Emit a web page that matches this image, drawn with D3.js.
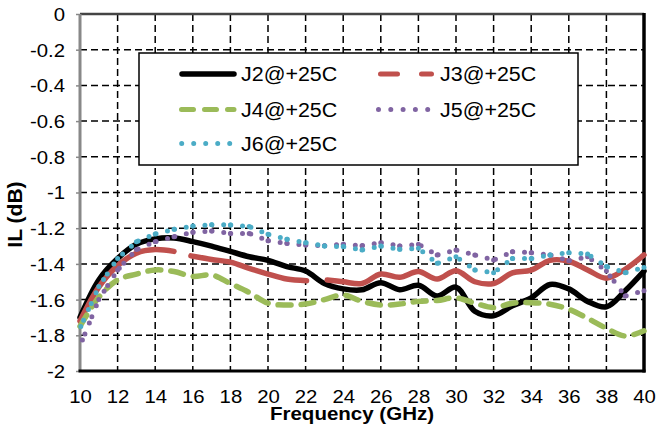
<!DOCTYPE html>
<html>
<head>
<meta charset="utf-8">
<script src="https://cdn.jsdelivr.net/npm/d3@7/dist/d3.min.js"></script>
<style>
    body { margin: 0; background: #fff; }
    svg { display: block; font-family: "Liberation Sans", Arial, sans-serif; }
</style>
</head>
<body>
<div id="chart"></div>
<script>
// Frequency points (GHz) shared by J2, J4, J5, J6
var freq = [10, 11, 12, 13, 14, 15, 16, 17, 18, 19, 20, 21, 22, 23, 24, 25,
    26, 27, 28, 29, 30, 31, 32, 33, 34, 35, 36, 37, 38, 39, 40];

// Insertion loss (dB)
var ilJ2 = [-1.70, -1.49, -1.37, -1.29, -1.26, -1.255, -1.275, -1.30, -1.33, -1.36, -1.38,
    -1.415, -1.44, -1.51, -1.54, -1.545, -1.505, -1.545, -1.52, -1.58, -1.53,
    -1.665, -1.69, -1.635, -1.59, -1.515, -1.54, -1.61, -1.64, -1.55, -1.44];

// J3 has its own points, with two holes in the trace
var freqJ3 = [10, 11, 12, 13, 14, 15, 15.5, 15.9, 17, 18, 19, 20, 21, 22.05, 22.6, 23.15,
    24, 25, 26, 27, 28, 29, 30, 31, 32, 33, 34, 35, 36, 37, 38, 39, 40];
var ilJ3 = [-1.72, -1.53, -1.41, -1.34, -1.32, -1.33, null, -1.355, -1.375, -1.39, -1.425,
    -1.457, -1.485, -1.494, null, -1.49,
    -1.50, -1.51, -1.457, -1.475, -1.443, -1.485, -1.438, -1.50, -1.51, -1.45, -1.435,
    -1.38, -1.385, -1.434, -1.48, -1.43, -1.35];

var ilJ4 = [-1.75, -1.587, -1.49, -1.457, -1.434, -1.443, -1.47, -1.462, -1.51, -1.56, -1.62,
    -1.63, -1.625, -1.60, -1.574, -1.61, -1.63, -1.625, -1.61, -1.605, -1.59,
    -1.62, -1.645, -1.62, -1.617, -1.626, -1.654, -1.705, -1.761, -1.804, -1.775];

var ilJ5 = [-1.86, -1.60, -1.434, -1.32, -1.276, -1.248, -1.223, -1.216, -1.229, -1.229, -1.27,
    -1.285, -1.294, -1.298, -1.29, -1.298, -1.281, -1.30, -1.29, -1.35, -1.322,
    -1.35, -1.378, -1.332, -1.337, -1.35, -1.382, -1.36, -1.44, -1.58, -1.55];

var ilJ6 = [-1.76, -1.527, -1.37, -1.276, -1.232, -1.206, -1.188, -1.18, -1.182, -1.19, -1.234,
    -1.262, -1.281, -1.30, -1.303, -1.322, -1.30, -1.318, -1.313, -1.397, -1.36,
    -1.434, -1.449, -1.37, -1.37, -1.35, -1.337, -1.345, -1.415, -1.449, -1.42];

var xTicks = [10, 12, 14, 16, 18, 20, 22, 24, 26, 28, 30, 32, 34, 36, 38, 40];
var yTicks = [0, -0.2, -0.4, -0.6, -0.8, -1, -1.2, -1.4, -1.6, -1.8, -2];

var seriesNames = ["J2@+25C", "J3@+25C", "J4@+25C", "J5@+25C", "J6@+25C"];
var seriesColors = ["#000000", "#C0504D", "#9BBB59", "#8064A2", "#4BACC6"];

// Layout
var margin = { left: 80, right: 13, top: 14, bottom: 59 };
var width = 657 - margin.left - margin.right;
var height = 430 - margin.top - margin.bottom;
var stretch = 1.1; // the original text is a little wide

var svg = d3.select("#chart")
    .append("svg")
    .attr("width", 657)
    .attr("height", 430);
var g = svg.append("g")
    .attr("transform", "translate(" + margin.left + "," + margin.top + ")");

var x = d3.scaleLinear().domain([10, 40]).range([0, width]);
var y = d3.scaleLinear().domain([-2, 0]).range([height, 0]);

// Grid
g.append("g").selectAll("line")
    .data(yTicks.filter(function (d) { return d !== 0 && d !== -2; }))
    .enter().append("line")
    .attr("x1", 0).attr("x2", width)
    .attr("y1", function (d) { return y(d); })
    .attr("y2", function (d) { return y(d); })
    .attr("stroke", "#000").attr("stroke-width", 1.5)
    .attr("stroke-dasharray", "7,4");
g.append("g").selectAll("line")
    .data(xTicks.filter(function (d) { return d !== 10 && d !== 40; }))
    .enter().append("line")
    .attr("y1", 0).attr("y2", height)
    .attr("x1", function (d) { return x(d); })
    .attr("x2", function (d) { return x(d); })
    .attr("stroke", "#000").attr("stroke-width", 1.5)
    .attr("stroke-dasharray", "7,4");

// Y axis (grey, small outer ticks)
var yAxisCall = d3.axisLeft(y)
    .tickValues(yTicks)
    .tickSize(4)
    .tickFormat(function (d) { return String(d); });
var yAxis = g.append("g").attr("class", "y axis").call(yAxisCall);
yAxis.select(".domain").remove();
yAxis.selectAll("line").attr("stroke", "#888").attr("stroke-width", 1.5);
yAxis.selectAll("text")
    .attr("x", -15 / stretch)
    .attr("dy", "0.35em")
    .attr("transform", "scale(" + stretch + ",1)")
    .attr("font-size", "18.5px")
    .attr("fill", "#000");

// X axis labels
var xAxisCall = d3.axisBottom(x).tickValues(xTicks).tickSize(0);
var xAxis = g.append("g").attr("class", "x axis")
    .attr("transform", "translate(0," + height + ")")
    .call(xAxisCall);
xAxis.select(".domain").remove();
xAxis.selectAll("text")
    .attr("y", 32)
    .attr("dy", 0)
    .attr("transform", "scale(" + stretch + ",1)")
    .attr("font-size", "18.5px")
    .attr("fill", "#000");

// Frame
g.append("line").attr("x1", 0).attr("x2", width).attr("y1", 0).attr("y2", 0)
    .attr("stroke", "#444").attr("stroke-width", 2.5);
g.append("line").attr("x1", 0).attr("x2", 0).attr("y1", 0).attr("y2", height)
    .attr("stroke", "#888").attr("stroke-width", 3);
g.append("line").attr("x1", -1.5).attr("x2", width + 1.5).attr("y1", height).attr("y2", height)
    .attr("stroke", "#000").attr("stroke-width", 3);
g.append("line").attr("x1", width).attr("x2", width).attr("y1", -1).attr("y2", height + 1.5)
    .attr("stroke", "#000").attr("stroke-width", 3.5);

// Series
var line = d3.line()
    .defined(function (d) { return d[1] !== null; })
    .x(function (d) { return x(d[0]); })
    .y(function (d) { return y(d[1]); })
    .curve(d3.curveCatmullRom.alpha(0.5));

g.append("path").datum(d3.zip(freq, ilJ2))
    .attr("d", line).attr("fill", "none")
    .attr("stroke", seriesColors[0]).attr("stroke-width", 5.5)
    .attr("stroke-linecap", "round");

g.append("path").datum(d3.zip(freqJ3, ilJ3))
    .attr("d", line).attr("fill", "none")
    .attr("stroke", seriesColors[1]).attr("stroke-width", 5.5)
    .attr("stroke-linecap", "round");

g.append("path").datum(d3.zip(freq, ilJ4))
    .attr("d", line).attr("fill", "none")
    .attr("stroke", seriesColors[2]).attr("stroke-width", 5.5)
    .attr("stroke-linecap", "round")
    .attr("stroke-dasharray", "13,10");

// dotted series: pattern restarts on every segment, like the original
function dottedSeries(values, colour) {
    var pts = d3.zip(freq, values);
    var segs = d3.pairs(pts);
    g.append("g").selectAll("path")
        .data(segs)
        .enter().append("path")
        .attr("d", function (s) {
            return "M" + x(s[1][0]) + "," + y(s[1][1]) + "L" + x(s[0][0]) + "," + y(s[0][1]);
        })
        .attr("fill", "none")
        .attr("stroke", colour).attr("stroke-width", 5)
        .attr("stroke-linecap", "round")
        .attr("stroke-dasharray", "0,6.7,0,11.8");
}
dottedSeries(ilJ5, seriesColors[3]);
dottedSeries(ilJ6, seriesColors[4]);

// Legend
var legend = svg.append("g").attr("transform", "translate(139,53)");
legend.append("rect")
    .attr("width", 439).attr("height", 112)
    .attr("fill", "#fff").attr("stroke", "#000").attr("stroke-width", 1.5);

var legendStyles = [
    { dash: null, x1: 43, x2: 95 },
    { dash: "17,24", x1: 241.5, x2: 292.5 },
    { dash: "12,11", x1: 42.5, x2: 95 },
    { dash: "0,12.3", x1: 239.5, x2: 290 },
    { dash: "0,12", x1: 42.7, x2: 91 }
];
var rowY = [21, 56.5, 90.5];
var colText = [102, 301];

seriesNames.forEach(function (name, i) {
    var row = Math.floor(i / 2), col = i % 2;
    var st = legendStyles[i];
    var ln = legend.append("line")
        .attr("x1", st.x1).attr("x2", st.x2)
        .attr("y1", rowY[row]).attr("y2", rowY[row])
        .attr("stroke", seriesColors[i])
        .attr("stroke-width", i === 0 ? 5.5 : 5)
        .attr("stroke-linecap", "round");
    if (st.dash) ln.attr("stroke-dasharray", st.dash);
    legend.append("text")
        .attr("transform", "translate(" + colText[col] + "," + (rowY[row] + 7) + ") scale(" + stretch + ",1)")
        .attr("font-size", "19.5px")
        .text(name);
});

// Axis titles
svg.append("text")
    .attr("transform", "translate(352,420) scale(1.08,1)")
    .attr("text-anchor", "middle")
    .attr("font-size", "19px")
    .attr("font-weight", "bold")
    .text("Frequency (GHz)");
svg.append("text")
    .attr("transform", "translate(22,214.5) rotate(-90) scale(1.08,1)")
    .attr("text-anchor", "middle")
    .attr("font-size", "19.5px")
    .attr("font-weight", "bold")
    .text("IL (dB)");
</script>
</body>
</html>
